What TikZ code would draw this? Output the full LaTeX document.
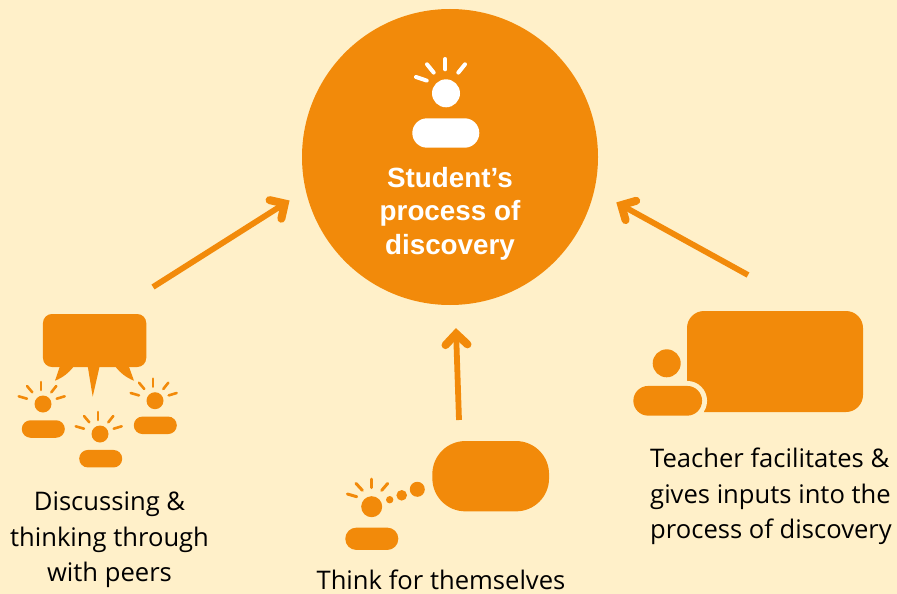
\documentclass[tikz,border=0pt]{standalone}
\usepackage{fontspec}
\setmainfont{Open Sans}
\newfontfamily\headfont{Liberation Sans}
\usepackage{tikz}
\usetikzlibrary{arrows.meta,positioning}
\definecolor{cream}{RGB}{255, 240, 201}
\definecolor{amber}{RGB}{242, 138, 10}
\tikzstyle{disc} = [circle, draw=none, fill=amber, inner sep=0pt, minimum size = 296pt]
\tikzstyle{head} = [circle, draw=none, fill=amber, inner sep=0pt]
\tikzstyle{body} = [rectangle, draw=none, fill=amber, inner sep=0pt]
\tikzstyle{bubble} = [rectangle, draw=none, fill=amber, inner sep=0pt]
\tikzstyle{caption} = [draw=none, fill=none, text=black, inner sep=0pt, font=\fontsize{25.6}{35.5}\selectfont]
\tikzstyle{title} = [draw=none, fill=none, text=white, inner sep=0pt, align=center, font=\headfont\bfseries\fontsize{27.8}{33.5}\selectfont]
\tikzstyle{ray} = [draw=amber, line width=2.6pt, line cap=round]
\tikzstyle{tedge} = [draw=amber, line width=5.8pt, -{Straight Barb[length=11pt,width=22pt,line width=8pt,line cap=round,line join=miter]}]
% rays round a small head
\newcommand{\smallrays}[1]{
\begin{scope}[shift={(#1)}]
\draw[ray] (-2,-22) -- (-2,-14);
\draw[ray] (-16,-18) -- (-10.7,-11.7);
\draw[ray] (13.3,-18) -- (8.3,-11.7);
\draw[ray] (-24.3,-7.7) -- (-16,-5.3);
\draw[ray] (21.7,-7.7) -- (13.7,-5.3);
\end{scope}
}

\begin{document}
\begin{tikzpicture}[x=1pt, y=-1pt]
\useasboundingbox[fill=cream] (0,0) rectangle (897,594);

% centre =============================
\node[disc] (disc) at (450,157) {};
\node[head, fill=white, minimum size=28pt] (mainhead) at (446,93.3) {};
\node[body, fill=white, minimum width=67pt, minimum height=29.4pt, rounded corners=14.7pt] (mainbody) at (445.8,133) {};
\draw[ray, draw=white, line width=4pt] (445.3,59) -- (445.3,69.3);
\draw[ray, draw=white, line width=4pt] (427,64.3) -- (433.7,72.6);
\draw[ray, draw=white, line width=4pt] (465,64.3) -- (458.3,72.6);
\draw[ray, draw=white, line width=4pt] (416,77) -- (426.7,80.6);
\node[title] (maintitle) at (450,213.5) {Student’s\\process of\\discovery};

% peers ==============================
\node[bubble, minimum width=103.3pt, minimum height=53pt, rounded corners=9pt] (peerbubble) at (94.6,340.5) {};
\fill[amber] (60,366) -- (55,380.7) .. controls (62,378) and (69,373) .. (74,366) -- cycle;
\fill[amber] (87.7,366) -- (92.7,396.7) -- (99.7,366) -- cycle;
\fill[amber] (115,366) .. controls (120,373) and (127,378) .. (134,380.7) -- (128.7,366) -- cycle;

\node[head, minimum size=17pt] (peerhead1) at (43,404) {};
\node[body, minimum width=43pt, minimum height=17.5pt, rounded corners=8.7pt] (peerbody1) at (43.3,429) {};
\smallrays{43,404}
\node[head, minimum size=17pt] (peerhead2) at (100,434) {};
\node[body, minimum width=43pt, minimum height=17.5pt, rounded corners=8.7pt] (peerbody2) at (100.7,458.7) {};
\smallrays{100,434}
\node[head, minimum size=17pt] (peerhead3) at (155,400.7) {};
\node[body, minimum width=43pt, minimum height=17.5pt, rounded corners=8.7pt] (peerbody3) at (155.3,425.3) {};
\smallrays{155,400.7}

\node[caption, align=center] (peertext) at (109.5,539.7) {Discussing \&\\thinking through\\with peers};

% thinking alone =====================
\node[bubble, minimum width=116.7pt, minimum height=70.3pt, rounded corners=33pt] (selfbubble) at (490.7,476.2) {};
\node[head, minimum size=21pt] (selfhead) at (371.7,506.7) {};
\node[body, minimum width=53pt, minimum height=22.3pt, rounded corners=11pt] (selfbody) at (371.8,538.8) {};
\draw[ray, line width=3pt] (371,479) -- (371,487.7);
\draw[ray, line width=3pt] (356,483.4) -- (362.4,490.4);
\draw[ray, line width=3pt] (387.7,483.4) -- (381.7,490.4);
\draw[ray, line width=3pt] (347.4,494) -- (356.7,496.7);
\node[head, minimum size=7.4pt] (dot1) at (389.7,499.7) {};
\node[head, minimum size=10.6pt] (dot2) at (401.7,495.3) {};
\node[head, minimum size=15pt] (dot3) at (417.3,489.3) {};

\node[caption] (selftext) at (441,579.7) {Think for themselves};

% teacher ============================
\node[bubble, minimum width=176pt, minimum height=101pt, rounded corners=17pt] (teachbubble) at (775,361.5) {};
\node[head, minimum size=28pt] (teachhead) at (666.7,363.3) {};
\node[body, fill=cream, minimum width=78.7pt, minimum height=39.7pt, rounded corners=19.8pt] (teachhalo) at (667.7,400.8) {};
\node[body, minimum width=68.7pt, minimum height=29.7pt, rounded corners=14.8pt] (teachbody) at (667.7,400.8) {};

\node[caption, align=left] (teachtext) at (771,496.7) {Teacher facilitates \&\\gives inputs into the\\process of discovery};

% edges ==============================
\coordinate (peerstart) at (153,287);
\coordinate (selfstart) at (459,420);
\coordinate (teachstart) at (748,275);

\path[tedge, shorten >=19pt] (peerstart) -- (disc.193.6);
\path[tedge, shorten >=23pt] (selfstart) -- (disc.272);
\path[tedge, shorten >=25pt] (teachstart) -- (disc.347.2);

\end{tikzpicture}
\end{document}
